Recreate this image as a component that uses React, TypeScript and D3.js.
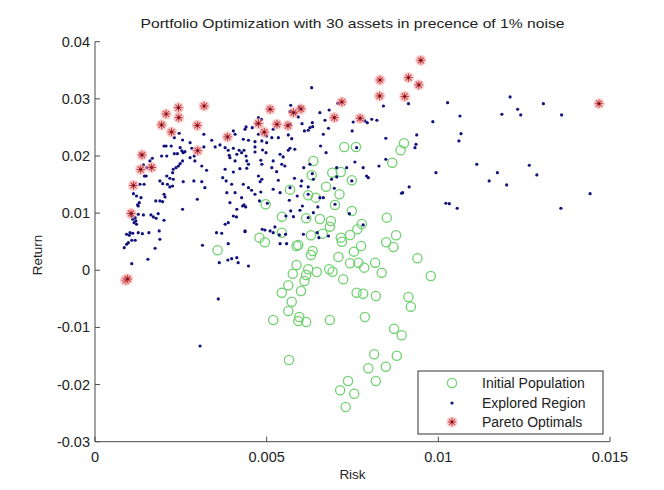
import React from 'react';
import * as d3 from 'd3';

const chartTitle = 'Portfolio Optimization with 30 assets in precence of 1% noise';
const xLabel = 'Risk';
const yLabel = 'Return';
const xTicks = [0, 0.005, 0.01, 0.015];
const yTicks = [-0.03, -0.02, -0.01, 0, 0.01, 0.02, 0.03, 0.04];
const legendLabels = ['Initial Population', 'Explored Region', 'Pareto Optimals'];

// [risk, return]
const initialPopulation: [number, number][] = [
  [0.00726,0.02158],[0.00760,0.02158],[0.00900,0.02223],[0.00890,0.02100],[0.00866,0.01883],
  [0.00636,0.01913],[0.00631,0.01663],[0.00691,0.01708],[0.00716,0.01720],[0.00748,0.01575],
  [0.00568,0.01411],[0.00673,0.01463],[0.00712,0.01330],[0.00621,0.01313],[0.00643,0.01271],
  [0.00497,0.01155],[0.00699,0.01143],[0.00748,0.01038],[0.00544,0.00938],[0.00615,0.00910],
  [0.00655,0.00898],[0.00687,0.00863],[0.00684,0.00763],[0.00777,0.00810],[0.00850,0.00921],
  [0.00479,0.00571],[0.00495,0.00490],[0.00544,0.00658],[0.00587,0.00425],[0.00592,0.00443],
  [0.00629,0.00613],[0.00663,0.00641],[0.00716,0.00571],[0.00719,0.00500],[0.00743,0.00618],
  [0.00764,0.00718],[0.00775,0.00425],[0.00848,0.00490],[0.00877,0.00613],[0.00869,0.00408],
  [0.00634,0.00338],[0.00629,0.00268],[0.00709,0.00233],[0.00754,0.00326],[0.00743,0.00123],
  [0.00767,0.00133],[0.00784,0.00046],[0.00816,0.00133],[0.00835,-0.00042],[0.00939,0.00210],
  [0.00978,-0.00100],[0.00587,0.00093],[0.00576,-0.00060],[0.00621,0.00018],[0.00615,-0.00082],
  [0.00610,-0.00187],[0.00646,-0.00030],[0.00682,0.00018],[0.00692,-0.00025],[0.00723,-0.00158],
  [0.00563,-0.00263],[0.00544,-0.00392],[0.00600,-0.00362],[0.00573,-0.00550],[0.00563,-0.00712],
  [0.00595,-0.00817],[0.00592,-0.00887],[0.00615,-0.00905],[0.00519,-0.00870],[0.00684,-0.00870],
  [0.00762,-0.00392],[0.00781,-0.00410],[0.00818,-0.00450],[0.00786,-0.00817],[0.00871,-0.01022],
  [0.00893,-0.01138],[0.00913,-0.00467],[0.00920,-0.00637],[0.00565,-0.01570],[0.00813,-0.01470],
  [0.00879,-0.01495],[0.00796,-0.01715],[0.00847,-0.01687],[0.00818,-0.01937],[0.00737,-0.01937],
  [0.00714,-0.02100],[0.00755,-0.02160],[0.00730,-0.02392],[0.00357,0.00350],
];

const exploredRegion: [number, number][] = [
  [0.00085,0.00396],[0.00092,0.00455],[0.00097,0.00483],[0.00100,0.00613],[0.00107,0.00525],
  [0.00117,0.00525],[0.00107,0.00116],[0.00092,0.00630],[0.00102,0.00658],[0.00110,0.00648],
  [0.00126,0.00658],[0.00138,0.00641],[0.00157,0.00658],[0.00154,0.00193],[0.00175,0.00385],
  [0.00187,0.00688],[0.00189,0.00543],[0.00107,0.00991],[0.00126,0.00980],[0.00141,0.00968],
  [0.00117,0.00921],[0.00110,0.00893],[0.00119,0.00863],[0.00114,0.00833],[0.00121,0.00805],
  [0.00163,0.00968],[0.00170,0.00933],[0.00184,0.00991],[0.00178,0.00910],[0.00201,0.00875],
  [0.00126,0.01125],[0.00112,0.01341],[0.00121,0.01300],[0.00134,0.01271],[0.00129,0.01183],
  [0.00201,0.01330],[0.00204,0.01283],[0.00189,0.01213],[0.00177,0.01213],[0.00197,0.01200],
  [0.00160,0.01913],[0.00141,0.01843],[0.00149,0.01650],[0.00131,0.01505],[0.00143,0.01505],
  [0.00124,0.01143],[0.00134,0.02030],[0.00151,0.01796],[0.00144,0.01650],[0.00167,0.01960],
  [0.00107,0.00950],
  [0.00245,0.02398],[0.00231,0.02320],[0.00255,0.02280],[0.00201,0.02175],[0.00207,0.02175],
  [0.00222,0.02175],[0.00209,0.02000],[0.00231,0.02041],[0.00240,0.02041],[0.00253,0.02088],
  [0.00262,0.02076],[0.00277,0.02233],[0.00282,0.02135],[0.00277,0.01971],[0.00255,0.01913],
  [0.00248,0.01866],[0.00236,0.01796],[0.00228,0.01768],[0.00243,0.01825],[0.00289,0.02000],
  [0.00291,0.01913],[0.00311,0.01825],[0.00325,0.01750],[0.00257,0.01551],[0.00209,0.01650],
  [0.00218,0.01610],[0.00228,0.01593],[0.00189,0.01563],[0.00197,0.01516],[0.00211,0.01505],
  [0.00218,0.01458],[0.00226,0.01475],[0.00288,0.01563],[0.00311,0.01551],[0.00320,0.01446],
  [0.00298,0.01243],[0.00255,0.01068],[0.00317,0.02380],[0.00317,0.02158],[0.00340,0.02275],
  [0.00350,0.02158],[0.00364,0.02193],[0.00379,0.02146],[0.00388,0.02100],[0.00403,0.02135],
  [0.00408,0.02380],[0.00194,0.02000],[0.00248,0.02146],[0.00257,0.02058],[0.00226,0.01708],
  [0.00432,0.02293],[0.00437,0.02468],[0.00440,0.02508],[0.00458,0.02496],[0.00476,0.02671],
  [0.00471,0.02566],[0.00447,0.02275],[0.00466,0.02158],[0.00434,0.02100],[0.00427,0.02058],
  [0.00420,0.02100],[0.00413,0.02030],[0.00391,0.02013],[0.00393,0.01971],[0.00440,0.02000],
  [0.00442,0.01913],[0.00408,0.01913],[0.00379,0.01768],[0.00403,0.01720],[0.00422,0.01778],
  [0.00442,0.01785],[0.00372,0.01620],[0.00447,0.01446],[0.00456,0.01400],[0.00408,0.01358],
  [0.00427,0.01271],[0.00434,0.01143],[0.00413,0.01068],[0.00476,0.01650],[0.00466,0.01330],
  [0.00485,0.02640],[0.00403,0.00950],[0.00412,0.00933],[0.00379,0.00805],[0.00354,0.00658],
  [0.00369,0.00648],[0.00313,0.00438],[0.00388,0.00466],[0.00437,0.00676],[0.00362,0.00133],
  [0.00387,0.00180],[0.00398,0.00203],[0.00413,0.00221],[0.00417,0.00133],[0.00447,0.00075],
  [0.00388,0.00833],[0.00393,0.01183],[0.00430,0.01125],[0.00403,0.02438],[0.00447,0.01855],
  [0.00382,0.01563],[0.00398,0.01505],[0.00432,0.01505],[0.00481,0.01551],[0.00483,0.01370],
  [0.00479,0.01213],[0.00439,0.01108],[0.00384,0.01358],
  [0.00631,0.03196],[0.00570,0.02888],[0.00585,0.02758],[0.00592,0.02683],[0.00603,0.02566],
  [0.00610,0.02438],[0.00626,0.02496],[0.00634,0.02513],[0.00670,0.02625],[0.00682,0.02805],
  [0.00707,0.02923],[0.00568,0.02776],[0.00595,0.02858],[0.00633,0.02583],[0.00621,0.02450],
  [0.00655,0.02758],[0.00680,0.02485],[0.00665,0.02380],[0.00657,0.02175],[0.00673,0.02058],
  [0.00573,0.02303],[0.00568,0.02135],[0.00563,0.02100],[0.00548,0.01983],[0.00544,0.01855],
  [0.00500,0.02233],[0.00498,0.02058],[0.00483,0.01925],[0.00486,0.01855],[0.00515,0.02320],
  [0.00519,0.01913],[0.00466,0.02250],[0.00486,0.02263],[0.00476,0.02380],[0.00500,0.02350],
  [0.00519,0.02468],[0.00534,0.02320],[0.00563,0.02368],[0.00568,0.02555],[0.00539,0.02030],
  [0.00553,0.01825],[0.00582,0.02118],[0.00488,0.02105],[0.00466,0.02070],[0.00515,0.01796],
  [0.00529,0.01726],[0.00534,0.01575],[0.00608,0.01796],[0.00626,0.01855],[0.00602,0.01563],
  [0.00581,0.01610],[0.00568,0.01446],[0.00566,0.01225],[0.00589,0.01300],[0.00570,0.01038],
  [0.00556,0.00950],[0.00578,0.00938],[0.00604,0.01125],[0.00636,0.01008],[0.00649,0.01108],
  [0.00655,0.01271],[0.00621,0.01330],[0.00621,0.01458],[0.00633,0.01690],[0.00647,0.00658],
  [0.00652,0.00571],[0.00607,0.00630],[0.00487,0.00718],[0.00495,0.00705],[0.00510,0.00688],
  [0.00519,0.00658],[0.00537,0.00618],[0.00555,0.00630],[0.00502,0.01173],[0.00636,0.01593],
  [0.00600,0.01475],[0.00665,0.01271],[0.00597,0.01050],[0.00539,0.01358],[0.00519,0.01418],
  [0.00486,0.01593],[0.00699,0.01155],[0.00741,0.00991],[0.00621,0.00921],[0.00704,0.01796],
  [0.00733,0.01796],[0.00757,0.01895],[0.00781,0.01796],[0.00791,0.01650],[0.00796,0.01620],
  [0.00827,0.01825],[0.00847,0.01943],[0.00689,0.01593],[0.00697,0.01435],[0.00704,0.01633],
  [0.00748,0.01563],[0.00762,0.02146],[0.00752,0.02595],[0.00749,0.02438],[0.00786,0.02613],
  [0.00793,0.02583],[0.00806,0.02643],[0.00821,0.02625],[0.00840,0.02875],[0.00847,0.02310],
  [0.00896,0.01358],[0.00915,0.01458],
  [0.00913,0.02916],[0.01027,0.02933],[0.01063,0.02700],[0.00984,0.02600],[0.01209,0.03033],
  [0.01231,0.02818],[0.01240,0.02718],[0.01185,0.02730],[0.01306,0.02916],[0.01359,0.02718],
  [0.00937,0.02368],[0.01066,0.02390],[0.01060,0.02263],[0.00935,0.02205],[0.00932,0.02146],
  [0.00993,0.01708],[0.01112,0.01855],[0.01172,0.01708],[0.01148,0.01563],[0.01199,0.01493],
  [0.01265,0.01838],[0.01287,0.01668],[0.00893,0.01348],[0.01022,0.01173],[0.01032,0.01166],
  [0.01055,0.01085],[0.01357,0.01085],[0.01442,0.01341],[0.00306,-0.01325],[0.00359,-0.00502],
  [0.00539,0.00466],[0.00558,0.00466],[0.00680,0.00600],[0.00781,0.00793],[0.00524,0.00758],
  [0.00437,0.00688],
];

const paretoOptimals: [number, number][] = [
  [0.00089,-0.00175],[0.00095,-0.00152],[0.00105,0.00994],[0.00112,0.01484],[0.00133,0.01764],
  [0.00137,0.02018],[0.00165,0.01799],[0.00194,0.02543],[0.00207,0.02735],[0.00223,0.02420],
  [0.00243,0.02846],[0.00244,0.02671],[0.00298,0.02534],[0.00299,0.02093],[0.00318,0.02875],
  [0.00386,0.02333],[0.00476,0.02569],[0.00493,0.02417],[0.00510,0.02818],[0.00530,0.02555],
  [0.00562,0.02531],[0.00578,0.02758],[0.00600,0.02823],[0.00697,0.02671],[0.00719,0.02945],
  [0.00772,0.02660],[0.00829,0.03050],[0.00830,0.03330],[0.00902,0.03042],[0.00913,0.03371],
  [0.00943,0.03243],[0.00949,0.03675],[0.01468,0.02916],
];

const GREEN = '#6fd16f';
const BLUE = '#10107a';
const RED = '#d03a3a';
const AXIS = '#4a4a4a';
const FONT = '"Liberation Sans", Arial, Helvetica, sans-serif';

function Star({ cx, cy }: { cx: number; cy: number }) {
  const r = 4.2;
  const angles = [0, 45, 90, 135];
  return (
    <g>
      <circle cx={cx} cy={cy} r={5.6} fill="#f3a9a9" opacity={0.55} />
      {angles.map((a) => {
        const rad = (a * Math.PI) / 180;
        const dx = Math.cos(rad) * r;
        const dy = Math.sin(rad) * r;
        return <line key={a} x1={cx - dx} y1={cy - dy} x2={cx + dx} y2={cy + dy} stroke={RED} strokeWidth={1.1} />;
      })}
      <circle cx={cx} cy={cy} r={1.3} fill="#5a1530" />
    </g>
  );
}

export default function App() {
  const W = 664;
  const H = 490;
  const x = d3.scaleLinear().domain([0, 0.015]).range([95, 610]);
  const y = d3.scaleLinear().domain([-0.03, 0.04]).range([441.7, 41.7]);
  const fmt = (v: number) => String(+v.toFixed(3));
  const [x0, x1] = x.range();
  const [yb, yt] = y.range();

  const lgX = 418, lgY = 371, lgW = 185, lgH = 63;
  const rowY = [383, 403, 422];
  const mX = 452;

  return (
    <svg width={W} height={H} style={{ position: 'absolute', left: 0, top: 0, background: '#fff' }} fontFamily={FONT}>
      <rect x={0} y={0} width={W} height={H} fill="#fff" />
      <text x={352.5} y={28} textAnchor="middle" fontSize={13.5} fill="#222" textLength={424} lengthAdjust="spacingAndGlyphs">{chartTitle}</text>

      {/* axes */}
      <line x1={x0} y1={yb} x2={x1} y2={yb} stroke={AXIS} strokeWidth={1} />
      <line x1={x0} y1={yb} x2={x0} y2={yt} stroke={AXIS} strokeWidth={1} />
      {xTicks.map((t) => (
        <g key={'x' + t}>
          <line x1={x(t)} y1={yb} x2={x(t)} y2={yb - 5} stroke={AXIS} strokeWidth={1} />
          <text x={x(t)} y={yb + 20} textAnchor="middle" fontSize={14.5} fill="#222">{fmt(t)}</text>
        </g>
      ))}
      {yTicks.map((t) => (
        <g key={'y' + t}>
          <line x1={x0} y1={y(t)} x2={x0 + 5} y2={y(t)} stroke={AXIS} strokeWidth={1} />
          <text x={x0 - 5} y={y(t) + 5} textAnchor="end" fontSize={14.5} fill="#222">{fmt(t)}</text>
        </g>
      ))}
      <text x={352.5} y={479} textAnchor="middle" fontSize={13.5} fill="#222">{xLabel}</text>
      <text transform={`translate(42,255) rotate(-90)`} textAnchor="middle" fontSize={13.5} fill="#222">{yLabel}</text>

      {/* data */}
      {initialPopulation.map((d, i) => (
        <circle key={'i' + i} cx={x(d[0])} cy={y(d[1])} r={4.6} fill="none" stroke={GREEN} strokeWidth={1.3} />
      ))}
      {exploredRegion.map((d, i) => (
        <circle key={'e' + i} cx={x(d[0])} cy={y(d[1])} r={1.6} fill={BLUE} />
      ))}
      {paretoOptimals.map((d, i) => (
        <Star key={'p' + i} cx={x(d[0])} cy={y(d[1])} />
      ))}

      {/* legend */}
      <rect x={lgX} y={lgY} width={lgW} height={lgH} fill="#fff" stroke="#333" strokeWidth={1} />
      <circle cx={mX} cy={rowY[0]} r={4.6} fill="none" stroke={GREEN} strokeWidth={1.3} />
      <circle cx={mX} cy={rowY[1]} r={1.6} fill={BLUE} />
      <Star cx={mX} cy={rowY[2]} />
      {legendLabels.map((l, i) => (
        <text key={l} x={482} y={rowY[i] + 5} fontSize={14} fill="#222">{l}</text>
      ))}
    </svg>
  );
}
